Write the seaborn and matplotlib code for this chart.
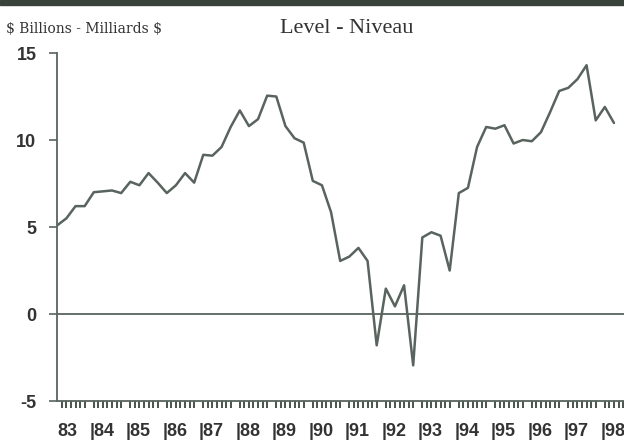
import matplotlib
matplotlib.use("Agg")
import matplotlib.pyplot as plt
import seaborn as sns
import pandas as pd
from matplotlib.patches import Rectangle
from matplotlib.ticker import MultipleLocator

# quarterly levels, 1983Q1 - 1998Q2 ($ billions)
years = list(range(1983, 1999))
level = [5.1, 5.5, 6.2, 6.2,
         7.0, 7.05, 7.1, 6.95,
         7.6, 7.4, 8.1, 7.55,
         6.95, 7.4, 8.1, 7.55,
         9.15, 9.1, 9.6, 10.75,
         11.7, 10.8, 11.2, 12.55,
         12.5, 10.8, 10.1, 9.85,
         7.65, 7.4, 5.85, 3.05,
         3.3, 3.8, 3.05, -1.8,
         1.46, 0.44, 1.65, -2.95,
         4.4, 4.7, 4.5, 2.5,
         6.95, 7.25, 9.6, 10.75,
         10.65, 10.85, 9.8, 10.0,
         9.93, 10.45, 11.6, 12.82,
         13.0, 13.5, 14.3, 11.13,
         11.9, 10.98]
year_labels = ["83"] + ["|" + str(y)[2:] for y in years[1:]]
y_ticks = [15, 10, 5, 0, -5]

quarters = [years[0] + i / 4 + 0.125 for i in range(len(level))]
df = pd.DataFrame({"t": quarters, "level": level})

sns.set_style("white")
plt.rcParams['font.family'] = ['Liberation Sans Narrow', 'Liberation Sans', 'DejaVu Sans']

line_col = "#59645e"
fig = plt.figure(figsize=(6.24, 4.4), dpi=100)
ax = fig.add_axes([0.0918, 0.0886, 0.9082, 0.7909])

sns.lineplot(data=df, x="t", y="level", ax=ax, color=line_col, linewidth=1.8)
ax.axhline(0, color=line_col, linewidth=1.3)

ax.set_xlim(quarters[0], 1998.65)
ax.set_ylim(-5, 15)
ax.set_xlabel("")
ax.set_ylabel("")

for s in ["top", "right"]:
    ax.spines[s].set_visible(False)
for s in ["left", "bottom"]:
    ax.spines[s].set_color(line_col)
    ax.spines[s].set_linewidth(1.3)

ax.set_yticks(y_ticks)
ax.set_yticklabels([str(v) for v in y_ticks], fontsize=13, fontweight="bold", color="#333333")
ax.tick_params(axis="y", direction="out", length=6, width=1.2, color=line_col, pad=9, left=True)

ax.set_xticks([quarters[0]] + years[1:])
ax.set_xticklabels(year_labels, fontsize=13, fontweight="bold", color="#333333", ha="left")
ax.tick_params(axis="x", which="major", length=0, pad=16, bottom=True)
ax.xaxis.set_minor_locator(MultipleLocator(0.125))
ax.tick_params(axis="x", which="minor", direction="out", length=5, width=1.4, color="#4a544e", bottom=True)

fig.text(0.01, 0.935, r"\$ Billions - Milliards \$", fontsize=10, family="DejaVu Serif",
         color="#333333", va="center")
fig.text(0.555, 0.935, "Level - Niveau", fontsize=16, family="Liberation Serif",
         color="#333333", va="center", ha="center")

fig.add_artist(Rectangle((0, 0.988), 1, 0.012, transform=fig.transFigure, color="#3a423c"))

fig.savefig("out.png", dpi=100)
